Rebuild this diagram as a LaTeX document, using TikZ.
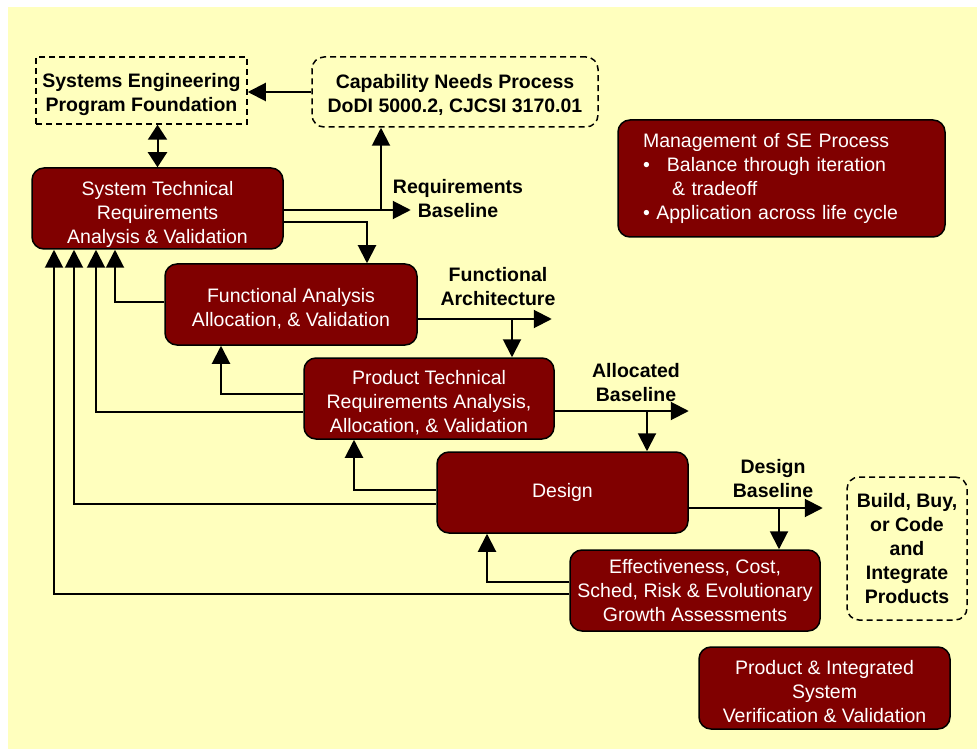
\documentclass[tikz,border=0pt]{standalone}
\usepackage{fontspec}
\setmainfont{Liberation Sans}
\usepackage{xcolor}
\usetikzlibrary{arrows.meta}
\definecolor{maroonbox}{RGB}{128,0,0}
\definecolor{paleyellow}{RGB}{255,255,190}
\newcommand*{\slidefont}{\fontsize{19.5}{24}\selectfont}
\newcommand*{\lowerby}[1]{\rule{0pt}{#1}}

\begin{document}
\begin{tikzpicture}[x=1pt, y=-1pt]
      \useasboundingbox (0,0) rectangle (977,751);
      \fill[paleyellow] (8,7) rectangle (977,749);

      \tikzstyle{flow}=[-{Triangle[length=18pt,width=18pt]}, line width=2pt]
      \tikzstyle{flowtext}=[font=\slidefont\bfseries, align=center, inner sep=0pt]

      {\tikzstyle{every node}=[rounded corners=12pt, draw=black, line width=1.5pt,
          fill=maroonbox, text=white, align=center, inner sep=0pt, font=\slidefont]
        \node[minimum width=251pt, minimum height=81pt] (stra) at (157.5, 208.5)
          {\lowerby{27pt}System Technical\\Requirements\\Analysis \& Validation};
        \node[minimum width=252pt, minimum height=81pt] (fa) at (291, 304.5)
          {\lowerby{22pt}Functional Analysis\\Allocation, \& Validation};
        \node[minimum width=250pt, minimum height=81pt] (pt) at (429, 398.5)
          {\lowerby{22pt}Product Technical\\Requirements Analysis,\\Allocation, \& Validation};
        \node[minimum width=251pt, minimum height=81pt] (des) at (562.5, 492.5)
          {Design};
        \node[minimum width=250pt, minimum height=81pt] (eff) at (695, 590.5)
          {Effectiveness, Cost,\\Sched, Risk \& Evolutionary\\Growth Assessments};
        \node[minimum width=251pt, minimum height=82pt] (pis) at (824.5, 688)
          {\lowerby{22pt}Product \& Integrated\\System\\Verification \& Validation};
        \node[minimum width=327pt, minimum height=117pt, text width=277pt, align=left] (mgmt) at (781.5, 178.5)
          {Management of SE Process\\
           \makebox[24pt][l]{•}Balance through iteration\\
           \hspace*{29pt}\& tradeoff\\
           • Application across life cycle};
      }

      {\tikzstyle{every node}=[draw=black, line width=1.5pt, dash pattern=on 6pt off 4pt,
          align=center, inner sep=0pt, font=\slidefont\bfseries]
        \node[minimum width=211pt, minimum height=67pt] (sef) at (141.5, 90.5)
          {\lowerby{22pt}Systems Engineering\\Program Foundation};
        \node[rounded corners=12pt, minimum width=286pt, minimum height=70pt] (cap) at (455, 92)
          {\lowerby{21pt}Capability Needs Process\\DoDI 5000.2, CJCSI 3170.01};
        \node[rounded corners=12pt, minimum width=120pt, minimum height=143pt] (bld) at (907, 548.5)
          {Build, Buy,\\or Code\\and\\Integrate\\Products};
      }

      \node[flowtext] (rbl) at (458, 198.5) {Requirements\\Baseline};
      \node[flowtext] (fab) at (498, 287) {Functional\\Architecture};
      \node[flowtext] (abl) at (636, 383) {Allocated\\Baseline};
      \node[flowtext] (dbl) at (773, 479) {Design\\Baseline};

      \draw[flow] (cap.west) -- (cap.west -| sef.east);
      \draw[{Triangle[length=15pt,width=19pt]}-{Triangle[length=15pt,width=19pt]}, line width=2pt]
        (stra.north |- sef.south) -- (stra.north);

      \path ([yshift=-1.5pt]stra.east) coordinate (outstra)
            ([xshift=-74pt]cap.south) coordinate (incap);
      \draw[flow] (outstra) -- ++(127,0);
      \draw[flow] (outstra -| incap) -- (incap);
      \draw[flow] ([yshift=-13.5pt]stra.east) -| ([xshift=76pt]fa.north);

      \foreach \a/\dy/\b/\dx in {fa/-14.5/pt/83, pt/-12.5/des/84.5, des/-15.5/eff/84}
      {
        \path ([yshift=\dy pt]\a.east) coordinate (out\a)
              ([xshift=\dx pt]\b.north) coordinate (in\b);
        \draw[flow] (out\a) -- ++(134,0);
        \draw[flow] (out\a -| in\b) -- (in\b);
      }

      \foreach \a/\dy/\b/\dx in {pt/4.5/fa/-70, des/2.5/pt/-75, eff/8.5/des/-75.5}
      {
        \draw[flow] ([yshift=\dy pt]\a.west) -| ([xshift=\dx pt]\b.south);
      }

      \foreach \a/\dy/\dx in {fa/2.5/-42.5, pt/-13.5/-61.5, des/-11.5/-83.5, eff/-3.5/-103.5}
      {
        \draw[flow] ([yshift=\dy pt]\a.west) -| ([xshift=\dx pt]stra.south);
      }
    \end{tikzpicture}
\end{document}
